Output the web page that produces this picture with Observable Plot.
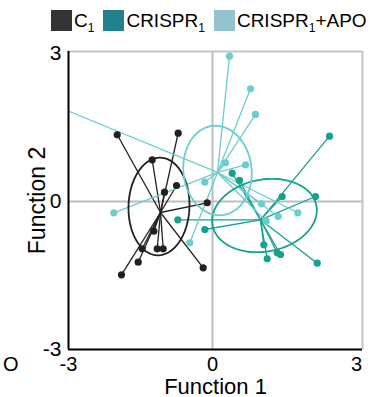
<!DOCTYPE html>
<html><head><meta charset="utf-8">
<script src="https://cdn.jsdelivr.net/npm/d3@7"></script>
<script src="https://cdn.jsdelivr.net/npm/@observablehq/plot@0.6"></script>
<style>
html,body{margin:0;padding:0;background:#fff;}
#wrap{position:relative;width:379px;height:397px;overflow:hidden;font-family:"Liberation Sans",Arial,sans-serif;}
#legend{position:absolute;left:51px;top:10px;display:flex;align-items:center;height:21px;font-size:19px;color:#000;white-space:nowrap;line-height:21px}
.item{display:flex;align-items:center;margin-right:9px}
.sw{width:21px;height:21px;margin-right:2px;flex:none}
.item sub{font-size:12px;vertical-align:-5px;line-height:0}
#chart{position:absolute;left:0;top:40px}
#frag{position:absolute;left:3px;top:354px;font-size:20px;line-height:20px;color:#000}
</style></head>
<body>
<div id="wrap">
  <div id="legend"></div>
  <div id="chart"></div>
  <div id="frag">O</div>
</div>
<script>
// ---- data (discriminant function scores) ----
const groups = ["C1", "CRISPR1", "CRISPR1+APO"];
const legendMain = ["C", "CRISPR", "CRISPR"];
const legendSub = ["1", "1", "1"];
const legendTail = ["", "", "+APO"];
const legendColors = ["#333333", "#23808c", "#94c4cb"];
const plotColors = ["#231f20", "#17a08f", "#6acece"];

const c1X = [-1.985, -0.715, -1.256, -0.75, -1.0, -0.110, -1.223, -1.465, -1.152, -1.027, -1.548, -1.896, -0.194];
const c1Y = [1.352, 1.385, 0.845, 0.324, 0.189, -0.026, -0.602, -0.959, -0.959, -0.959, -1.230, -1.486, -1.344];

const crX = [0.410, 0.5625, 1.452, 2.146, 2.4375, -0.723, -0.160, 1.069, 1.140, 1.348, 1.417, 2.181];
const crY = [0.574, 0.426, 0.101, 0.101, 1.324, -0.371, -0.568, -0.878, -1.162, -1.040, -1.074, -1.251];

const apX = [0.354, 0.792, 0.896, 0.271, 0.6875, -0.160, -3.3, -2.056, -0.473, 1.021, 1.369, 1.777, 1.119];
const apY = [2.945, 2.285, 1.764, 0.785, 0.744, 0.391, 1.952, -0.229, -0.837, -0.047, -0.304, -0.229, -0.399];

// group centroids
const centX = [-1.083, 1.0, 0.104];
const centY = [-0.223, -0.371, 0.588];

// confidence ellipses: centre, semi-major, semi-minor, angle (deg)
const ellCX = [-1.115, 1.083, 0.104];
const ellCY = [-0.101, -0.284, 0.628];
const ellA = [0.99, 1.10, 0.91];
const ellB = [0.635, 0.73, 0.71];
const ellAngle = [88, 10, 97];

const xTicks = [-3, 0, 3];
const yTicks = [-3, 0, 3];
const xDomain = [-3, 3.125];
const yDomain = [-3, 3.04];

// ---- build tables ----
const seriesX = [c1X, crX, apX];
const seriesY = [c1Y, crY, apY];
const points = [];
groups.forEach((g, i) => {
  seriesX[i].forEach((x, j) => points.push({group: g, x, y: seriesY[i][j], cx: centX[i], cy: centY[i]}));
});
const ellipsePts = [];
groups.forEach((g, i) => {
  const th = ellAngle[i] * Math.PI / 180;
  for (let k = 0; k <= 120; k++) {
    const t = k / 120 * 2 * Math.PI;
    const u = ellA[i] * Math.cos(t), v = ellB[i] * Math.sin(t);
    ellipsePts.push({group: g, x: ellCX[i] + u * Math.cos(th) - v * Math.sin(th), y: ellCY[i] + u * Math.sin(th) + v * Math.cos(th)});
  }
});

// ---- legend ----
const leg = document.getElementById("legend");
groups.forEach((g, i) => {
  const it = document.createElement("div");
  it.className = "item";
  it.innerHTML = `<div class="sw" style="background:${legendColors[i]}"></div><span>${legendMain[i]}<sub>${legendSub[i]}</sub>${legendTail[i]}</span>`;
  leg.appendChild(it);
});

// ---- chart ----
const font = '"Liberation Sans", Arial, sans-serif';
const chart = Plot.plot({
  width: 379,
  height: 357,
  marginLeft: 68,
  marginRight: 17,
  marginTop: 11,
  marginBottom: 48,
  style: {fontFamily: font, background: "transparent", color: "#000"},
  x: {domain: xDomain},
  y: {domain: yDomain},
  color: {domain: groups, range: plotColors},
  marks: [
    Plot.ruleX([0], {stroke: "#bdbdbd", strokeWidth: 2}),
    Plot.ruleY([0], {stroke: "#bdbdbd", strokeWidth: 2}),
    Plot.ruleY([yDomain[1]], {stroke: "#c4c4c4", strokeWidth: 2}),
    Plot.ruleX([xDomain[1]], {stroke: "#c4c4c4", strokeWidth: 2}),
    Plot.link(points, {x1: "cx", y1: "cy", x2: "x", y2: "y", stroke: "group", strokeWidth: 1.3, clip: true}),
    Plot.line(ellipsePts, {x: "x", y: "y", z: "group", stroke: "group", strokeWidth: 1.8, clip: true}),
    Plot.dot(points, {x: "x", y: "y", fill: "group", r: 3.6, clip: true}),
    Plot.ruleX([xDomain[0]], {stroke: "#000", strokeWidth: 2}),
    Plot.ruleY([yDomain[0]], {stroke: "#000", strokeWidth: 2}),
    Plot.axisX({ticks: xTicks, tickSize: 0, tickPadding: 7, fontSize: 20, tickFormat: d => String(d), label: null}),
    Plot.axisY({ticks: yTicks, tickSize: 0, tickPadding: 7, fontSize: 21, tickFormat: d => String(d), label: null}),
    Plot.axisX({ticks: [], tickSize: 0, fontSize: 22, label: "Function 1", labelAnchor: "center", labelArrow: "none", labelOffset: 44}),
    Plot.axisY({ticks: [], tickSize: 0, fontSize: 23, label: "Function 2", labelAnchor: "center", labelArrow: "none", labelOffset: 40})
  ]
});
document.getElementById("chart").appendChild(chart);
</script>
</body></html>
